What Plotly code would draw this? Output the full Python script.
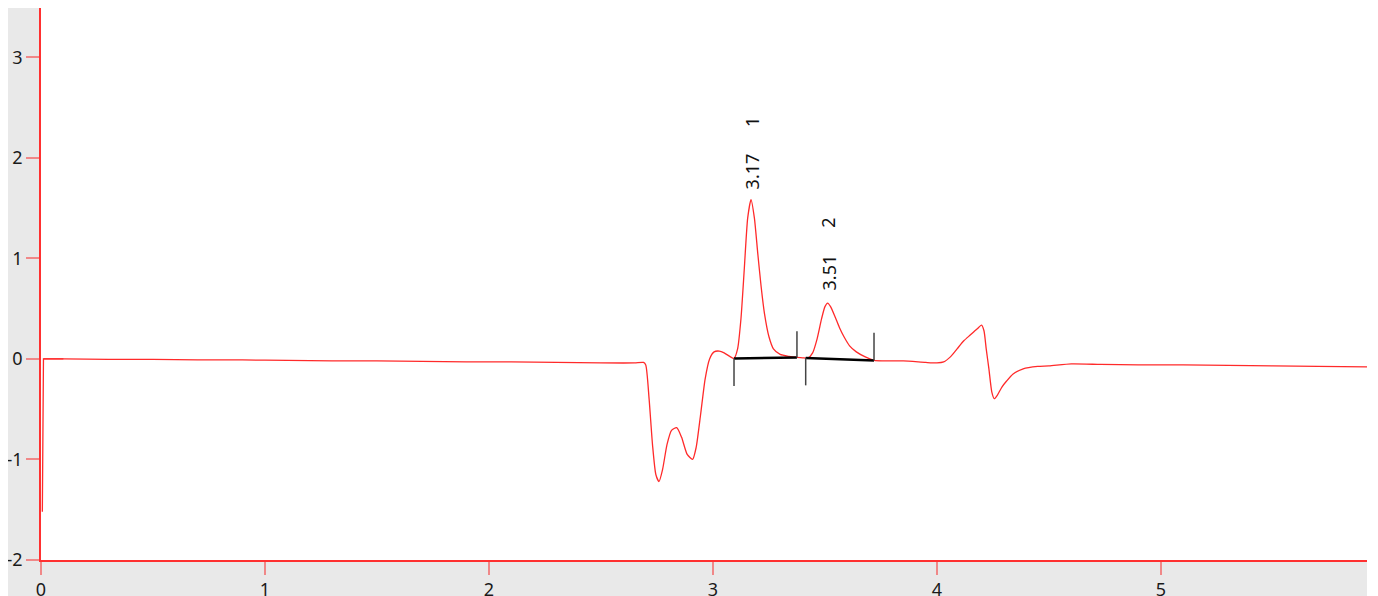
import plotly.graph_objects as go

# ---- data ----
time = [0.006, 0.011, 0.1, 0.3, 0.5, 0.7, 0.9, 1.1, 1.3, 1.5, 1.7, 1.9, 2.1, 2.3, 2.5, 2.65, 2.69,
        2.70, 2.715, 2.73, 2.745, 2.759, 2.775, 2.795, 2.815, 2.838, 2.86, 2.885, 2.909, 2.925,
        2.945, 2.965, 2.985, 3.005, 3.028, 3.05, 3.075, 3.094,
        3.110, 3.125, 3.140, 3.155, 3.170, 3.185, 3.200, 3.215, 3.230, 3.250, 3.270, 3.300,
        3.340, 3.375, 3.400, 3.425, 3.445, 3.465, 3.485, 3.500, 3.512, 3.525, 3.545, 3.565,
        3.585, 3.610, 3.640, 3.680, 3.720, 3.76, 3.85, 3.95, 4.0, 4.03, 4.06, 4.09, 4.12, 4.15,
        4.18, 4.199, 4.21, 4.22, 4.232, 4.245, 4.256, 4.27, 4.29, 4.311, 4.34, 4.385, 4.45, 4.5,
        4.6, 4.73, 4.9, 5.1, 5.3, 5.5, 5.7, 5.92]
signal = [-1.52, 0.0, 0.0, -0.005, -0.005, -0.01, -0.01, -0.015, -0.02, -0.02, -0.025, -0.03, -0.03,
          -0.035, -0.04, -0.04, -0.035,
          -0.06, -0.4, -0.85, -1.15, -1.22, -1.10, -0.85, -0.71, -0.684, -0.78, -0.95, -1.0, -0.88,
          -0.55, -0.2, 0.0, 0.07, 0.078, 0.06, 0.025, 0.005,
          0.10, 0.40, 0.90, 1.40, 1.585, 1.40, 1.05, 0.72, 0.45, 0.22, 0.10, 0.045,
          0.025, 0.015, 0.01, 0.01, 0.06, 0.20, 0.40, 0.52, 0.555, 0.52, 0.42, 0.31,
          0.22, 0.13, 0.07, 0.02, -0.015, -0.02, -0.02, -0.035, -0.04, -0.03, 0.02, 0.10, 0.18, 0.24,
          0.30, 0.336, 0.28, 0.10, -0.10, -0.33, -0.396, -0.36, -0.28, -0.22, -0.15, -0.098, -0.075, -0.07,
          -0.05, -0.055, -0.06, -0.06, -0.065, -0.07, -0.075, -0.08]

peak_rt_labels = ["3.17", "3.51"]
peak_ids = ["1", "2"]
peak_rt = [3.172, 3.516]
label_rt_y = [1.87, 0.855]
label_id_y = [2.36, 1.35]

base_start_x = [3.094, 3.414]
base_start_y = [0.005, 0.01]
base_end_x = [3.375, 3.719]
base_end_y = [0.015, -0.015]
start_tick_bottom = [-0.27, -0.263]
end_tick_top = [0.276, 0.26]

x_ticks = [0, 1, 2, 3, 4, 5]
x_tick_text = ["0", "1", "2", "3", "4", "5"]
y_ticks = [-2, -1, 0, 1, 2, 3]
y_tick_text = ["-2", "-1", "0", "1", "2", "3"]

red = "#ff2a2a"
fig = go.Figure()
# injection spike: straight segments
fig.add_trace(go.Scatter(x=time[:3], y=signal[:3], mode="lines",
                         line=dict(color=red, width=1.3), hoverinfo="skip"))
# rest of the trace: smooth
fig.add_trace(go.Scatter(x=time[1:], y=signal[1:], mode="lines",
                         line=dict(color=red, width=1.3, shape="spline", smoothing=0.6),
                         hoverinfo="skip"))

for i in range(len(base_start_x)):
    fig.add_trace(go.Scatter(x=[base_start_x[i], base_end_x[i]], y=[base_start_y[i], base_end_y[i]],
                             mode="lines", line=dict(color="black", width=2.5), hoverinfo="skip"))
    fig.add_trace(go.Scatter(x=[base_start_x[i], base_start_x[i]], y=[base_start_y[i], start_tick_bottom[i]],
                             mode="lines", line=dict(color="#444444", width=1.5), hoverinfo="skip"))
    fig.add_trace(go.Scatter(x=[base_end_x[i], base_end_x[i]], y=[base_end_y[i], end_tick_top[i]],
                             mode="lines", line=dict(color="#444444", width=1.5), hoverinfo="skip"))
    fig.add_annotation(x=peak_rt[i], y=label_rt_y[i], text=peak_rt_labels[i], textangle=-90,
                       showarrow=False, font=dict(family="Noto Sans", size=18, color="#111111"))
    fig.add_annotation(x=peak_rt[i], y=label_id_y[i], text=peak_ids[i], textangle=-90,
                       showarrow=False, font=dict(family="Noto Sans", size=18, color="#111111"))

# the page body adds an 8px offset; figure is sized so the plot lands where the reference has it
gray = "#e9e9e9"
W, H = 1370, 588
L, R, T, B = 33, 11, 0, 36
pw = W - L - R

shapes = [
    dict(type="rect", xref="paper", yref="paper", x0=1.0, x1=(W - L) / pw, y0=-1, y1=2,
         fillcolor="white", line=dict(width=0), layer="above"),
]

fig.update_layout(
    width=W, height=H, margin=dict(l=L, r=R, t=T, b=B, autoexpand=False),
    paper_bgcolor=gray, plot_bgcolor="white", showlegend=False,
    shapes=shapes,
    font=dict(family="Noto Sans", size=18, color="#1a1a1a"),
)
fig.update_xaxes(range=[0, 5.92], tickvals=x_ticks, ticktext=x_tick_text, ticks="outside", ticklen=13,
                 tickwidth=1.5, tickcolor="#f08888", showline=True, linecolor="#ff3030", linewidth=1.5,
                 showgrid=False, zeroline=False, fixedrange=True, automargin=False)
fig.update_yaxes(range=[-2, 3.49], tickvals=y_ticks, ticktext=y_tick_text, ticks="outside", ticklen=13,
                 tickwidth=1.5, tickcolor="#f08888", showline=True, linecolor="#ff3030", linewidth=1.5,
                 showgrid=False, zeroline=False, fixedrange=True, automargin=False)

fig.write_html("out.html", config={"displayModeBar": False})
